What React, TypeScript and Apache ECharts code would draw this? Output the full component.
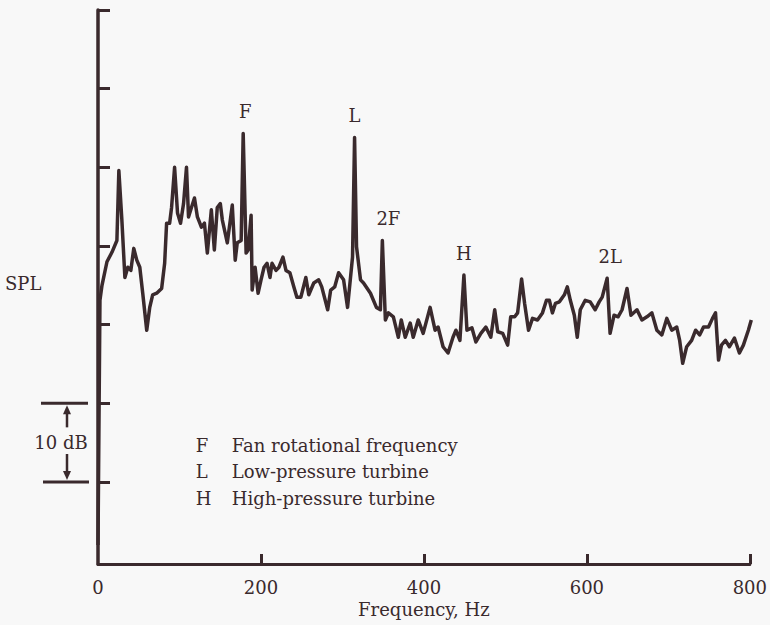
import React, { useEffect, useRef } from "react";
import * as echarts from "echarts";

// Spectrum trace (frequency in Hz, relative SPL in dB; 0 dB = lower scale tick)
const frequencyHz = [
  0, 2.4, 4.9, 11.0, 17.1, 23.2, 25.6, 29.3, 33.0, 36.6, 40.3, 43.9, 47.6, 51.3, 54.9, 59.8,
  63.5, 67.1, 72.0, 78.1, 81.8, 84.2, 87.9, 90.3, 94.0, 97.6, 101.3, 105.0, 108.6, 111.1, 114.7,
  118.4, 122.0, 126.9, 130.6, 134.2, 139.1, 142.8, 146.4, 150.1, 152.6, 158.7, 164.8, 168.4,
  170.9, 175.7, 178.2, 181.8, 184.3, 187.9, 189.2, 192.8, 196.5, 200.1, 203.8, 207.5, 211.1,
  213.6, 218.5, 222.1, 227.0, 230.7, 235.5, 240.4, 244.1, 249.0, 255.1, 258.7, 264.8, 270.9,
  274.6, 281.9, 285.6, 290.5, 295.3, 301.4, 306.3, 312.4, 314.9, 317.3, 322.2, 325.9, 334.4,
  341.7, 346.6, 349.0, 352.7, 356.4, 362.5, 368.6, 372.2, 377.1, 383.2, 386.9, 393.0, 399.1,
  407.6, 413.7, 417.4, 423.5, 429.6, 435.7, 439.3, 444.2, 449.1, 452.8, 458.9, 463.8, 469.9,
  476.0, 482.1, 486.9, 490.6, 496.7, 502.8, 506.5, 511.4, 515.0, 519.9, 523.6, 528.4, 533.3,
  539.4, 545.5, 550.4, 554.0, 557.7, 561.4, 566.3, 572.4, 576.0, 579.7, 584.6, 588.2, 591.9,
  598.0, 604.1, 610.2, 615.1, 618.8, 624.9, 628.5, 633.4, 638.3, 643.2, 649.3, 654.1, 661.5,
  667.6, 673.7, 679.8, 685.9, 692.0, 698.1, 704.2, 710.3, 713.9, 717.6, 722.5, 728.6, 733.5,
  738.4, 743.2, 749.3, 754.2, 757.9, 761.6, 765.2, 770.1, 775.0, 781.1, 787.2, 792.1, 798.2, 801.8,
];
const splDb = [
  -8.0, 23.1, 25.0, 28.0, 29.2, 30.7, 39.6, 33.3, 26.0, 27.3, 26.9, 29.7, 28.2, 27.3, 24.0, 19.3,
  22.2, 23.8, 24.0, 24.6, 27.8, 32.9, 32.9, 34.9, 40.0, 34.2, 32.9, 35.4, 40.0, 33.7, 34.9,
  36.1, 33.7, 32.4, 32.9, 29.1, 34.6, 29.5, 34.9, 35.4, 33.3, 30.4, 35.2, 28.2,
  30.4, 30.7, 44.3, 29.1, 29.5, 33.9, 24.4, 27.3, 24.0, 25.7, 27.3, 27.8, 26.0,
  27.8, 26.9, 27.3, 28.6, 26.9, 26.6, 24.8, 23.5, 23.5, 26.0, 23.8, 25.3, 25.7,
  24.8, 21.9, 24.4, 24.8, 26.6, 25.7, 22.2, 28.6, 43.8, 29.9, 25.7, 25.3, 24.0,
  22.2, 21.9, 30.7, 20.6, 21.5, 21.0, 18.4, 20.6, 18.4, 20.2, 18.4, 20.6, 18.9,
  22.2, 19.3, 19.7, 17.2, 16.4, 18.4, 19.3, 18.0, 26.3, 19.3, 19.6, 17.8, 18.9,
  19.7, 18.4, 21.9, 19.1, 18.9, 17.4, 21.0, 21.0, 21.5, 25.8, 22.7, 19.3, 20.8,
  20.6, 21.5, 23.1, 23.1, 21.5, 22.7, 22.9, 23.8, 24.8, 23.1, 21.2, 18.4, 21.9,
  23.1, 22.9, 21.9, 22.9, 23.5, 25.9, 18.9, 21.2, 21.0, 21.9, 24.6, 21.2, 21.9,
  20.6, 21.0, 21.5, 19.3, 18.7, 20.8, 19.3, 19.7, 18.0, 15.1, 17.2, 18.0, 19.3,
  18.7, 19.7, 19.7, 20.8, 21.5, 15.5, 17.4, 18.0, 17.2, 18.3, 16.4, 17.4, 19.3, 20.6,
];

// Peak annotations
const peakNames = ["F", "L", "2F", "H", "2L"];
const peakFreqHz = [178.2, 314.9, 349.0, 449.1, 624.9];
const peakDb = [44.3, 43.8, 30.7, 26.3, 25.9];
const peakLabelShiftPx = [2, 0, 6, 0, 3];

// Axes
const xTickLabels = [0, 200, 400, 600, 800];
const xTickMarks = [200, 400, 600, 800];
const yTickMarks = [0, 10, 20, 30, 40, 50, 60];
const yMin = -10.42;
const yMax = 60;

// Key
const keyLetters = ["F", "L", "H"];
const keyTexts = ["Fan rotational frequency", "Low-pressure turbine", "High-pressure turbine"];
const scaleBarDb = [0, 10];

const INK = "#3a2a2d";
const FONT = "'DejaVu Serif', 'Liberation Serif', serif";

export default function App() {
  const ref = useRef<HTMLDivElement>(null);
  useEffect(() => {
    if (!ref.current) return;
    const chart = echarts.init(ref.current, undefined, { renderer: "svg" });
    const data = frequencyHz.map((f, i) => [f, splDb[i]]);
    chart.setOption({
      animation: false,
      backgroundColor: "#f8f8f8",
      grid: { left: 98, right: 17, top: 10, bottom: 61, containLabel: false },
      xAxis: {
        type: "value",
        min: 0,
        max: 800,
        interval: 200,
        name: "Frequency, Hz",
        nameLocation: "middle",
        nameGap: 36,
        nameTextStyle: { fontFamily: FONT, fontSize: 18, color: INK },
        axisLine: { show: true, onZero: false, lineStyle: { color: INK, width: 3 } },
        axisTick: {
          show: true,
          inside: true,
          length: 10,
          customValues: xTickMarks,
          lineStyle: { color: INK, width: 3 },
        },
        axisLabel: {
          show: true,
          margin: 14,
          customValues: xTickLabels,
          fontFamily: FONT,
          fontSize: 18,
          color: INK,
        },
        splitLine: { show: false },
      },
      yAxis: {
        type: "value",
        min: yMin,
        max: yMax,
        axisLine: { show: true, onZero: false, lineStyle: { color: INK, width: 3.5 } },
        axisTick: {
          show: true,
          inside: true,
          length: 12,
          customValues: yTickMarks,
          lineStyle: { color: INK, width: 3 },
        },
        axisLabel: { show: false },
        splitLine: { show: false },
      },
      series: [
        {
          type: "line",
          data,
          symbol: "none",
          clip: false,
          lineStyle: { color: INK, width: 3.5, join: "round" },
          markPoint: {
            symbol: "circle",
            symbolSize: 0,
            data: peakNames.map((n, i) => ({
              name: n,
              coord: [peakFreqHz[i], peakDb[i]],
              label: {
                show: true,
                formatter: n,
                position: "top",
                distance: 13,
                offset: [peakLabelShiftPx[i], 0],
                fontFamily: FONT,
                fontSize: 18,
                color: INK,
              },
            })),
          },
        },
      ],
    });

    // Annotations placed through the axes
    const yTop = chart.convertToPixel({ yAxisIndex: 0 }, scaleBarDb[1]) as number;
    const yBot = chart.convertToPixel({ yAxisIndex: 0 }, scaleBarDb[0]) as number;
    const yMid = (yTop + yBot) / 2;
    const ax = 67;
    const keyY0 = chart.convertToPixel({ yAxisIndex: 0 }, 4.7) as number;
    const keyX = chart.convertToPixel({ xAxisIndex: 0 }, 120) as number;
    const yAxisMid = ((chart.convertToPixel({ yAxisIndex: 0 }, yMin) as number) +
      (chart.convertToPixel({ yAxisIndex: 0 }, yMax) as number)) / 2;
    const txt = (x: number, y: number, s: string, align = "left") => ({
      type: "text",
      x,
      y,
      style: { text: s, fontFamily: FONT, fontSize: 18, fill: INK, align, verticalAlign: "middle" },
    });
    const graphic: any[] = [
      { type: "line", shape: { x1: 41, y1: yTop, x2: 88, y2: yTop }, style: { stroke: INK, lineWidth: 3 } },
      { type: "line", shape: { x1: 43, y1: yBot, x2: 89, y2: yBot }, style: { stroke: INK, lineWidth: 3 } },
      { type: "line", shape: { x1: ax, y1: yTop + 8, x2: ax, y2: yTop + 24 }, style: { stroke: INK, lineWidth: 2.5 } },
      { type: "polygon", shape: { points: [[ax, yTop + 2], [ax - 4, yTop + 11], [ax + 4, yTop + 11]] }, style: { fill: INK } },
      { type: "line", shape: { x1: ax, y1: yBot - 8, x2: ax, y2: yBot - 28 }, style: { stroke: INK, lineWidth: 2.5 } },
      { type: "polygon", shape: { points: [[ax, yBot - 2], [ax - 4, yBot - 11], [ax + 4, yBot - 11]] }, style: { fill: INK } },
      { type: "rect", shape: { x: 32, y: yMid - 11, width: 58, height: 22 }, style: { fill: "#f8f8f8" } },
      txt(61, yMid, "10 dB", "center"),
      txt(5, yAxisMid - 4, "SPL"),
    ];
    keyLetters.forEach((k, i) => {
      graphic.push(txt(keyX, keyY0 + i * 26.5, k, "left"));
      graphic.push(txt(keyX + 36, keyY0 + i * 26.5, keyTexts[i], "left"));
    });
    chart.setOption({ graphic });

    return () => chart.dispose();
  }, []);
  return (
    <div
      ref={ref}
      style={{ position: "fixed", left: 0, top: 0, width: 770, height: 625 }}
    />
  );
}
